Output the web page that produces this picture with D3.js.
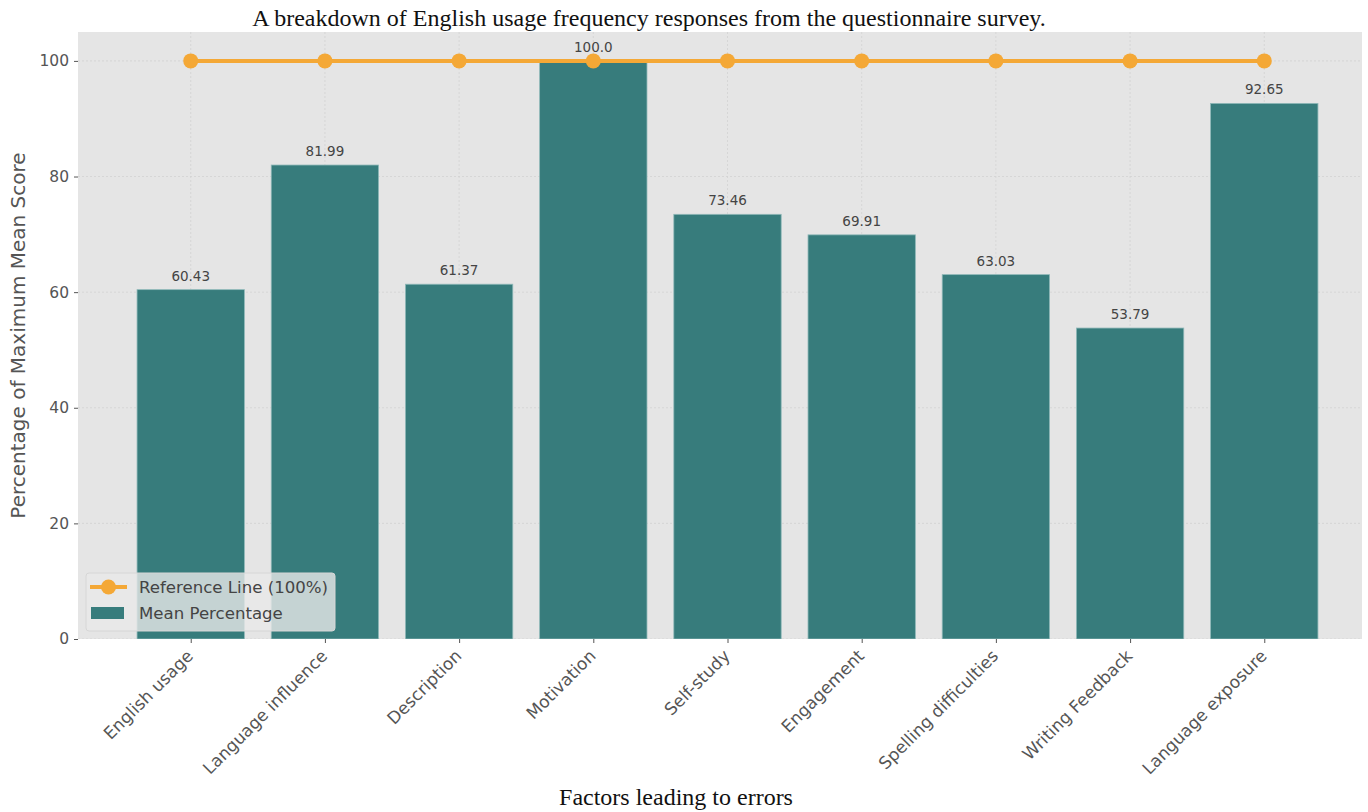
<!DOCTYPE html>
<html>
<head>
<meta charset="utf-8">
<script src="https://cdn.jsdelivr.net/npm/d3@7"></script>
<style>
  body { margin: 0; background: #fff; }
  svg { display: block; }
</style>
</head>
<body>
<svg id="chart" width="1368" height="812"></svg>
<script>
// data
const categories = [
  "English usage", "Language influence", "Description", "Motivation", "Self-study",
  "Engagement", "Spelling difficulties", "Writing Feedback", "Language exposure"
];
const meanPercentage = [60.43, 81.99, 61.37, 100.0, 73.46, 69.91, 63.03, 53.79, 92.65];
const valueLabels = ["60.43", "81.99", "61.37", "100.0", "73.46", "69.91", "63.03", "53.79", "92.65"];
const referenceLine = [100, 100, 100, 100, 100, 100, 100, 100, 100];
const yTicks = [0, 20, 40, 60, 80, 100];

const svg = d3.select("#chart");

// plot box
const pLeft = 78, pRight = 1362, pTop = 32, pBottom = 639;

const x = d3.scaleLinear().domain([-0.84, 8.84]).range([pLeft, 1377]);
const bw = x(0.8) - x(0);
const y = d3.scaleLinear().domain([0, 105]).range([pBottom, pTop]);

svg.append("defs").append("clipPath").attr("id", "clip")
  .append("rect").attr("x", pLeft).attr("y", pTop)
  .attr("width", pRight - pLeft).attr("height", pBottom - pTop);

svg.append("rect")
  .attr("x", pLeft).attr("y", pTop)
  .attr("width", pRight - pLeft).attr("height", pBottom - pTop)
  .attr("fill", "#e5e5e5");

const plot = svg.append("g").attr("clip-path", "url(#clip)");

// grid
plot.append("g").selectAll("line").data(yTicks).join("line")
  .attr("x1", pLeft).attr("x2", pRight)
  .attr("y1", d => y(d)).attr("y2", d => y(d))
  .attr("stroke", "#d2d2d2").attr("stroke-width", 0.8)
  .attr("stroke-dasharray", "2,2");
plot.append("g").selectAll("line").data(categories).join("line")
  .attr("x1", (d, i) => x(i)).attr("x2", (d, i) => x(i))
  .attr("y1", pTop).attr("y2", pBottom)
  .attr("stroke", "#d2d2d2").attr("stroke-width", 0.8)
  .attr("stroke-dasharray", "2,2");

// bars
plot.append("g").selectAll("rect").data(meanPercentage).join("rect")
  .attr("x", (d, i) => x(i) - bw / 2)
  .attr("y", d => y(d))
  .attr("width", bw)
  .attr("height", d => y(0) - y(d))
  .attr("fill", "#377c7c")
  .attr("stroke", "#8fb8b8")
  .attr("stroke-width", 0.8);

// value labels
svg.append("g").selectAll("text").data(meanPercentage).join("text")
  .attr("x", (d, i) => x(i))
  .attr("y", d => y(d) - 9)
  .attr("text-anchor", "middle")
  .attr("font-family", "DejaVu Sans")
  .attr("font-size", 13.5)
  .attr("fill", "#444")
  .text((d, i) => valueLabels[i]);

// reference line
const line = d3.line().x((d, i) => x(i)).y(d => y(d));
svg.append("path").datum(referenceLine)
  .attr("d", line)
  .attr("fill", "none")
  .attr("stroke", "#f4a836")
  .attr("stroke-width", 4);
svg.append("g").selectAll("circle").data(referenceLine).join("circle")
  .attr("cx", (d, i) => x(i)).attr("cy", d => y(d))
  .attr("r", 7.5)
  .attr("fill", "#f4a836");

// y axis
const yAxis = svg.append("g")
  .attr("transform", `translate(${pLeft},0)`)
  .call(d3.axisLeft(y).tickValues(yTicks).tickSize(4).tickPadding(5));
yAxis.select(".domain").remove();
yAxis.selectAll("line").attr("stroke", "#555");
yAxis.selectAll("text").attr("font-family", "DejaVu Sans").attr("font-size", 15.5).attr("fill", "#555");

// x axis
const xAxis = svg.append("g")
  .attr("transform", `translate(0,${pBottom})`)
  .call(d3.axisBottom(x).tickValues(d3.range(categories.length)).tickSize(4)
    .tickFormat(i => categories[i]));
xAxis.select(".domain").remove();
xAxis.selectAll("line").attr("stroke", "#555");
xAxis.selectAll("text")
  .attr("font-family", "DejaVu Sans").attr("font-size", 17).attr("fill", "#555")
  .attr("text-anchor", "end")
  .attr("dy", null).attr("y", 0)
  .attr("transform", "translate(3,18) rotate(-45)");

// axis titles
svg.append("text")
  .attr("transform", `translate(25,${(pTop + pBottom) / 2}) rotate(-90)`)
  .attr("text-anchor", "middle")
  .attr("font-family", "DejaVu Sans").attr("font-size", 20).attr("fill", "#555")
  .text("Percentage of Maximum Mean Score");

svg.append("text")
  .attr("x", 676).attr("y", 805)
  .attr("text-anchor", "middle")
  .attr("font-family", "Liberation Serif").attr("font-size", 24).attr("fill", "#111")
  .text("Factors leading to errors");

svg.append("text")
  .attr("x", 649).attr("y", 26)
  .attr("text-anchor", "middle")
  .attr("font-family", "Liberation Serif").attr("font-size", 24).attr("fill", "#111")
  .text("A breakdown of English usage frequency responses from the questionnaire survey.");

// legend
const lg = svg.append("g").attr("transform", "translate(86,573)");
lg.append("rect").attr("width", 249).attr("height", 58).attr("rx", 3)
  .attr("fill", "#e8e8e8").attr("fill-opacity", 0.8)
  .attr("stroke", "#d6d6d6");
lg.append("line").attr("x1", 4).attr("x2", 41).attr("y1", 14).attr("y2", 14)
  .attr("stroke", "#f4a836").attr("stroke-width", 4);
lg.append("circle").attr("cx", 22.5).attr("cy", 14).attr("r", 7.5).attr("fill", "#f4a836");
lg.append("rect").attr("x", 5).attr("y", 34).attr("width", 33).attr("height", 12).attr("fill", "#377c7c");
lg.append("text").attr("x", 53).attr("y", 20)
  .attr("font-family", "DejaVu Sans").attr("font-size", 16.6).attr("fill", "#444")
  .text("Reference Line (100%)");
lg.append("text").attr("x", 53).attr("y", 46)
  .attr("font-family", "DejaVu Sans").attr("font-size", 16.6).attr("fill", "#444")
  .text("Mean Percentage");
</script>
</body>
</html>
